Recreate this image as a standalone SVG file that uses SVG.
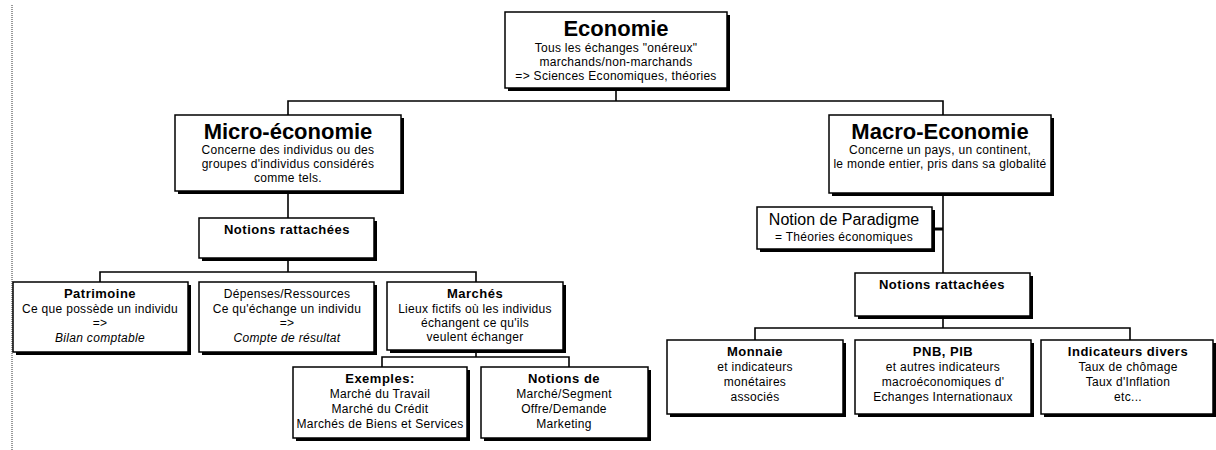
<svg xmlns="http://www.w3.org/2000/svg" width="1216" height="450" viewBox="0 0 1216 450">
  <style>
    .shadow { fill: #000; }
    .box { fill: #fff; stroke: #000; stroke-width: 1.5; }
    .wire { fill: none; stroke: #000; stroke-width: 1.6; }
    .wire-thick { fill: none; stroke: #000; stroke-width: 3; }
    .margin { fill: none; stroke: #333; stroke-width: 1; stroke-dasharray: 1 1; }
    text { font-family: "Liberation Sans", Arial, sans-serif; fill: #000; text-anchor: middle; }
    .big { font-size: 22px; font-weight: bold; }
    .head { font-size: 13px; font-weight: bold; letter-spacing: 0.5px; }
    .body { font-size: 12px; letter-spacing: 0.3px; }
    .em { font-size: 12px; font-style: italic; letter-spacing: 0.3px; }
    .mid { font-size: 16px; }
  </style>

  <rect width="1216" height="450" fill="#fff"/>
  <line class="margin" x1="12" y1="5" x2="12" y2="450"/>

  <!-- connectors -->
  <g id="connectors">
    <path class="wire" d="M616,88 V101 M288,115 V101 H943 V115"/>
    <path class="wire" d="M288,191 V218"/>
    <path class="wire" d="M288,258 V272 M100,282 V272 H476 V282"/>
    <path class="wire" d="M476,350 V357 M382,367 V357 H569 V367"/>
    <path class="wire" d="M943,193 V273"/>
    <path class="wire-thick" d="M932,229 H943"/>
    <path class="wire" d="M943,316 V328 M755,340 V328 H1130 V340"/>
  </g>

  <g id="economie">
    <rect class="shadow" x="508" y="15" width="222" height="76"/>
    <rect class="box" x="505" y="12" width="222" height="76"/>
    <text class="big" x="616" y="36">Economie</text>
    <text class="body" x="616" y="52">Tous les échanges "onéreux"</text>
    <text class="body" x="616" y="66">marchands/non-marchands</text>
    <text class="body" x="616" y="80">=&gt; Sciences Economiques, théories</text>
  </g>

  <g id="micro">
    <rect class="shadow" x="178" y="118" width="226" height="76"/>
    <rect class="box" x="175" y="115" width="226" height="76"/>
    <text class="big" x="288" y="139">Micro-économie</text>
    <text class="body" x="288" y="154">Concerne des individus ou des</text>
    <text class="body" x="288" y="168">groupes d'individus considérés</text>
    <text class="body" x="288" y="182">comme tels.</text>
  </g>

  <g id="micro-notions">
    <rect class="shadow" x="202" y="221" width="175" height="40"/>
    <rect class="box" x="199" y="218" width="175" height="40"/>
    <text class="head" x="287" y="234">Notions rattachées</text>
  </g>

  <g id="patrimoine">
    <rect class="shadow" x="16" y="285" width="175" height="70"/>
    <rect class="box" x="13" y="282" width="175" height="70"/>
    <text class="head" x="100" y="298">Patrimoine</text>
    <text class="body" x="100" y="313">Ce que possède un individu</text>
    <text class="body" x="100" y="327">=&gt;</text>
    <text class="em" x="100" y="342">Bilan comptable</text>
  </g>

  <g id="depenses">
    <rect class="shadow" x="202" y="285" width="175" height="70"/>
    <rect class="box" x="199" y="282" width="175" height="70"/>
    <text class="body" x="287" y="298">Dépenses/Ressources</text>
    <text class="body" x="287" y="313">Ce qu'échange un individu</text>
    <text class="body" x="287" y="327">=&gt;</text>
    <text class="em" x="287" y="342">Compte de résultat</text>
  </g>

  <g id="marches">
    <rect class="shadow" x="390" y="285" width="176" height="68"/>
    <rect class="box" x="387" y="282" width="176" height="68"/>
    <text class="head" x="475" y="298">Marchés</text>
    <text class="body" x="475" y="313">Lieux fictifs où les individus</text>
    <text class="body" x="475" y="327">échangent ce qu'ils</text>
    <text class="body" x="475" y="341">veulent échanger</text>
  </g>

  <g id="exemples">
    <rect class="shadow" x="296" y="370" width="174" height="71"/>
    <rect class="box" x="293" y="367" width="174" height="71"/>
    <text class="head" x="380" y="383">Exemples:</text>
    <text class="body" x="380" y="398">Marché du Travail</text>
    <text class="body" x="380" y="413">Marché du Crédit</text>
    <text class="body" x="380" y="428">Marchés de Biens et Services</text>
  </g>

  <g id="notions-de">
    <rect class="shadow" x="484" y="370" width="167" height="71"/>
    <rect class="box" x="481" y="367" width="167" height="71"/>
    <text class="head" x="564" y="383">Notions de</text>
    <text class="body" x="564" y="398">Marché/Segment</text>
    <text class="body" x="564" y="413">Offre/Demande</text>
    <text class="body" x="564" y="428">Marketing</text>
  </g>

  <g id="macro">
    <rect class="shadow" x="832" y="118" width="222" height="78"/>
    <rect class="box" x="829" y="115" width="222" height="78"/>
    <text class="big" x="940" y="139">Macro-Economie</text>
    <text class="body" x="940" y="154">Concerne un pays, un continent,</text>
    <text class="body" x="940" y="168">le monde entier, pris dans sa globalité</text>
  </g>

  <g id="paradigme">
    <rect class="shadow" x="760" y="210" width="175" height="42"/>
    <rect class="box" x="757" y="207" width="175" height="42"/>
    <text class="mid" x="844" y="225">Notion de Paradigme</text>
    <text class="body" x="844" y="241">= Théories économiques</text>
  </g>

  <g id="macro-notions">
    <rect class="shadow" x="858" y="276" width="175" height="43"/>
    <rect class="box" x="855" y="273" width="175" height="43"/>
    <text class="head" x="942" y="289">Notions rattachées</text>
  </g>

  <g id="monnaie">
    <rect class="shadow" x="670" y="343" width="176" height="74"/>
    <rect class="box" x="667" y="340" width="176" height="74"/>
    <text class="head" x="755" y="356">Monnaie</text>
    <text class="body" x="755" y="371">et indicateurs</text>
    <text class="body" x="755" y="386">monétaires</text>
    <text class="body" x="755" y="401">associés</text>
  </g>

  <g id="pnb-pib">
    <rect class="shadow" x="858" y="343" width="176" height="74"/>
    <rect class="box" x="855" y="340" width="176" height="74"/>
    <text class="head" x="943" y="356">PNB, PIB</text>
    <text class="body" x="943" y="371">et autres indicateurs</text>
    <text class="body" x="943" y="386">macroéconomiques d'</text>
    <text class="body" x="943" y="401">Echanges Internationaux</text>
  </g>

  <g id="indicateurs">
    <rect class="shadow" x="1044" y="343" width="172" height="74"/>
    <rect class="box" x="1041" y="340" width="172" height="74"/>
    <text class="head" x="1128" y="356">Indicateurs divers</text>
    <text class="body" x="1128" y="371">Taux de chômage</text>
    <text class="body" x="1128" y="386">Taux d'Inflation</text>
    <text class="body" x="1128" y="401">etc...</text>
  </g>
</svg>
